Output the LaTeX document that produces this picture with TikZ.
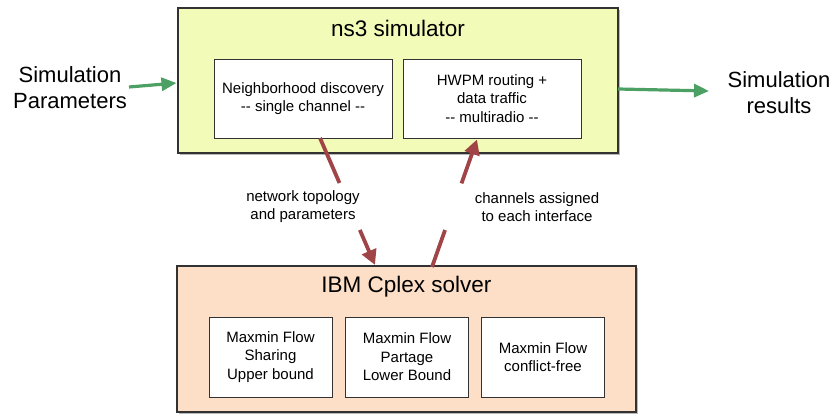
\documentclass[tikz,border=0pt]{standalone}
\usepackage{fontspec}
\setmainfont{Liberation Sans}
\usetikzlibrary{arrows.meta,shadows,calc}
\definecolor{nsfill}{RGB}{242,251,183}
\definecolor{cpfill}{RGB}{253,222,198}
\definecolor{redarr}{RGB}{160,68,72}
\definecolor{grnarr}{RGB}{76,160,100}
\definecolor{boxline}{RGB}{50,50,50}
\tikzset{
  bigbox/.style={draw=boxline, line width=1.2pt, minimum width=#1, inner sep=0pt,
    drop shadow={shadow xshift=1.5pt, shadow yshift=-2pt, opacity=0.45, fill=black!60}},
  innerbox/.style={draw=boxline, line width=0.9pt, fill=white, align=center, inner sep=0pt,
    font=\fontsize{15}{18.5}\selectfont,
    drop shadow={shadow xshift=0.8pt, shadow yshift=-1pt, opacity=0.3, fill=black!60}},
  titletext/.style={font=\fontsize{22.5}{26}\selectfont, inner sep=0pt},
  sidetext/.style={font=\fontsize{22}{26}\selectfont, align=center, inner sep=0pt},
  labeltext/.style={font=\fontsize{15}{18}\selectfont, align=center, inner sep=0pt},
  redarrow/.style={draw=redarr, line width=3.8pt, -{Triangle[length=15pt,width=15pt]}},
  redline/.style={draw=redarr, line width=3.8pt},
  grnarrow/.style={draw=grnarr, line width=3.2pt, -{Triangle[length=15pt,width=13pt]}},
}
\begin{document}
\begin{tikzpicture}[x=1pt,y=-1pt]
\useasboundingbox (0,0) rectangle (837,414);
% big boxes
\node[bigbox=440pt, minimum height=145pt, fill=nsfill] (ns3) at (398,80.5) {};
\node[bigbox=459pt, minimum height=146pt, fill=cpfill] (cplex) at (406.5,339) {};
\node[titletext] (ns3t) at (398,28) {ns3 simulator};
\node[titletext] (cplext) at (406.5,287) {IBM Cplex solver};
% inner boxes ns3
\node[innerbox, minimum width=178pt, minimum height=79pt] (nd) at (303,98.5)
  {Neighborhood discovery\\-{}- single channel -{}-};
\node[innerbox, minimum width=178pt, minimum height=79pt] (hw) at (492,98.5)
  {HWPM routing +\\data traffic\\-{}- multiradio -{}-};
% inner boxes cplex
\node[innerbox, minimum width=123pt, minimum height=80pt] (m1) at (270.5,357)
  {Maxmin Flow\\Sharing\\Upper bound};
\node[innerbox, minimum width=123pt, minimum height=80pt] (m2) at (407,357)
  {Maxmin Flow\\Partage\\Lower Bound};
\node[innerbox, minimum width=123pt, minimum height=80pt] (m3) at (543,357)
  {Maxmin Flow\\conflict-free};
% side texts
\node[sidetext] (sp) at (70,88) {Simulation\\Parameters};
\node[sidetext] (sr) at (779,93) {Simulation\\results};
% labels
\node[labeltext] (l1) at (303,207) {network topology\\and parameters};
\node[labeltext] (l2) at (537,207) {channels assigned\\to each interface};
% red arrows
\coordinate (a1s) at (320,138);
\coordinate (a1e) at (375,265);
\coordinate (a2s) at (432,267);
\coordinate (a2e) at (477,139.5);
\draw[redline] (a1s) -- ($(a1s)!0.354!(a1e)$) coordinate (a1m);
\draw[redarrow] ($(a1s)!0.724!(a1e)$) coordinate (a1n) -- (a1e);
\draw[redline] (a2s) -- ($(a2s)!0.29!(a2e)$) coordinate (a2m);
\draw[redarrow] ($(a2s)!0.656!(a2e)$) coordinate (a2n) -- (a2e);
% green arrows
\coordinate (g1s) at (129,87);
\coordinate (g1e) at (176.5,83);
\coordinate (g2s) at (618,89);
\coordinate (g2e) at (709,91);
\draw[grnarrow] (g1s) -- (g1e);
\draw[grnarrow] (g2s) -- (g2e);
\end{tikzpicture}
\end{document}
